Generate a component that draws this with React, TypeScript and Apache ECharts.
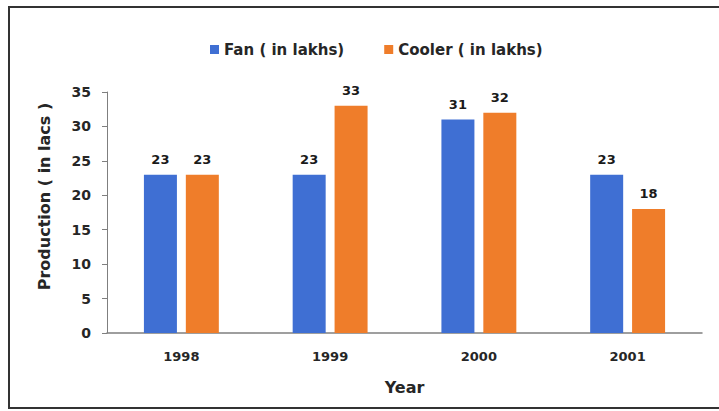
import React, { useEffect, useRef } from "react";
import * as echarts from "echarts";

const years = ["1998", "1999", "2000", "2001"];
const fan = [23, 23, 31, 23];
const cooler = [23, 33, 32, 18];
const seriesNames = ["Fan ( in lakhs)", "Cooler ( in lakhs)"];

export default function App() {
  const ref = useRef<HTMLDivElement>(null);
  useEffect(() => {
    const chart = echarts.init(ref.current!, null, { renderer: "svg" });
    const font = "'DejaVu Sans', sans-serif";
    const labelStyle = {
      show: true,
      position: "top" as const,
      distance: 9,
      color: "#1a1a1a",
      fontWeight: "bold" as const,
      fontSize: 13,
      fontFamily: font,
    };
    chart.setOption({
      animation: false,
      backgroundColor: "#ffffff",
      textStyle: { fontFamily: font },
      legend: {
        top: 37,
        left: 205,
        itemWidth: 9,
        itemHeight: 9,
        itemGap: 40,
        icon: "rect",
        textStyle: { fontSize: 15, fontWeight: "bold", color: "#262626", fontFamily: font },
        data: seriesNames,
      },
      grid: { left: 107, right: 17, top: 92, bottom: 78 },
      xAxis: {
        type: "category",
        data: years,
        name: "Year",
        nameLocation: "middle",
        nameGap: 46,
        nameTextStyle: { fontSize: 16, fontWeight: "bold", color: "#262626", fontFamily: font },
        axisLine: { lineStyle: { color: "#7f7f7f", width: 1.5 } },
        axisTick: { show: false },
        axisLabel: { fontSize: 13, fontWeight: "bold", color: "#262626", margin: 17, fontFamily: font },
      },
      yAxis: {
        type: "value",
        min: 0,
        max: 35,
        interval: 5,
        name: "Production ( in lacs )",
        nameLocation: "middle",
        nameGap: 55,
        nameTextStyle: {
          fontSize: 16,
          fontWeight: "bold",
          color: "#262626",
          fontFamily: font,
          padding: [0, 0, 0, 32],
        },
        axisLine: { show: true, lineStyle: { color: "#7f7f7f", width: 1 } },
        axisTick: { show: true, length: 5, lineStyle: { color: "#7f7f7f" } },
        splitLine: { show: false },
        axisLabel: { fontSize: 14, fontWeight: "bold", color: "#262626", margin: 16, fontFamily: font },
      },
      series: [
        {
          name: seriesNames[0],
          type: "bar",
          data: fan,
          barWidth: 33,
          barGap: "27%",
          itemStyle: { color: "#3f6fd3" },
          label: labelStyle,
        },
        {
          name: seriesNames[1],
          type: "bar",
          data: cooler,
          barWidth: 33,
          itemStyle: { color: "#ef7d2a" },
          label: labelStyle,
        },
      ],
      graphic: [
        {
          type: "rect",
          shape: { x: 9, y: 7, width: 720, height: 401 },
          style: { fill: "none", stroke: "#333333", lineWidth: 2 },
          silent: true,
        },
      ],
    });
    return () => chart.dispose();
  }, []);
  return (
    <div
      ref={ref}
      style={{ position: "absolute", left: 0, top: 0, width: 719, height: 411 }}
    />
  );
}
